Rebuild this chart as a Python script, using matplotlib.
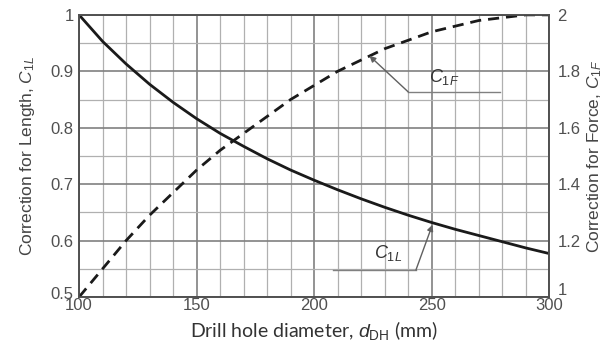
import matplotlib
matplotlib.use("Agg")
import matplotlib.pyplot as plt
import matplotlib.transforms as mtransforms
from matplotlib.ticker import MultipleLocator

# values
diameter = [100, 110, 120, 130, 140, 150, 160, 170, 180, 190, 200,
            210, 220, 230, 240, 250, 260, 270, 280, 290, 300]
c1l = [1.000, 0.953, 0.913, 0.877, 0.845, 0.816, 0.790, 0.767, 0.745, 0.725, 0.707,
       0.690, 0.674, 0.659, 0.645, 0.632, 0.620, 0.609, 0.598, 0.587, 0.577]
c1f = [1.00, 1.10, 1.20, 1.29, 1.37, 1.45, 1.52, 1.58, 1.64, 1.70, 1.75,
       1.80, 1.84, 1.88, 1.91, 1.94, 1.96, 1.98, 1.99, 2.00, 2.00]

x_ticks = [100, 150, 200, 250, 300]
left_ticks = [0.5, 0.6, 0.7, 0.8, 0.9, 1.0]
left_labels = ["0.5", "0.6", "0.7", "0.8", "0.9", "1"]
right_ticks = [1.0, 1.2, 1.4, 1.6, 1.8, 2.0]
right_labels = ["1", "1.2", "1.4", "1.6", "1.8", "2"]

plt.rcParams["font.family"] = ["Liberation Sans", "DejaVu Sans"]
plt.rcParams["mathtext.fontset"] = "custom"
plt.rcParams["mathtext.it"] = "Liberation Sans:italic"
plt.rcParams["mathtext.rm"] = "Liberation Sans"

tick_col = "#505050"
label_col = "#444444"

fig = plt.figure(figsize=(6.13, 3.54), dpi=100)
ax = fig.add_axes([0.129, 0.161, 0.767, 0.797])
ax2 = ax.twinx()

ax.set_xlim(100, 300)
ax.set_ylim(0.5, 1.0)
ax2.set_ylim(1.0, 2.0)

# grid: light lines every 10 mm / 0.05, darker at the labelled ticks
ax.xaxis.set_minor_locator(MultipleLocator(10))
ax.yaxis.set_minor_locator(MultipleLocator(0.05))
ax.set_xticks(x_ticks)
ax.set_yticks(left_ticks)
ax.set_yticklabels(left_labels)
ax2.set_yticks(right_ticks)
ax2.set_yticklabels(right_labels)
ax.grid(which="minor", color="#b0b0b0", lw=0.9)
ax.grid(which="major", color="#808080", lw=1.2)
ax.set_axisbelow(True)

ax.tick_params(which="both", length=0, labelsize=12, colors=tick_col)
ax.tick_params(axis="x", pad=1)
ax.tick_params(axis="y", pad=4)
ax2.tick_params(which="both", length=0, labelsize=12, colors=tick_col, pad=6)
for a in (ax, ax2):
    for s in a.spines.values():
        s.set_color("#505050")
        s.set_linewidth(1.2)

# lift the bottom-most y labels a little so they clear the x labels
lift = mtransforms.ScaledTranslation(0, 3 / 72, fig.dpi_scale_trans)
ax.get_yticklabels()[0].set_transform(ax.get_yticklabels()[0].get_transform() + lift)
lift2 = mtransforms.ScaledTranslation(0, 6 / 72, fig.dpi_scale_trans)
ax2.get_yticklabels()[0].set_transform(ax2.get_yticklabels()[0].get_transform() + lift2)

ax.plot(diameter, c1l, color="#1a1a1a", lw=2.0)
ax2.plot(diameter, c1f, color="#1a1a1a", lw=2.0, ls=(0, (4, 2.5)))

ax.set_xlabel("Drill hole diameter, $d_{\\mathrm{DH}}$ (mm)", fontsize=14,
              color="#333333", family=["Lato", "DejaVu Sans"], labelpad=4)
ax.set_ylabel("Correction for Length, $C_{1L}$", fontsize=12.5, color=label_col, labelpad=10)
ax2.set_ylabel("Correction for Force, $C_{1F}$", fontsize=12.5, color=label_col,
               rotation=90, labelpad=3)

# callouts
ax2.plot([240, 279], [1.727, 1.727], color="#808080", lw=1.0)
ax2.annotate("", xy=(223.5, 1.855), xytext=(240, 1.727),
             arrowprops=dict(arrowstyle="-|>", color="#606060", lw=1.0,
                             mutation_scale=9, shrinkA=0, shrinkB=0))
ax2.text(255.5, 1.78, "$C_{1F}$", fontsize=13, color="#333333", ha="center", va="center")

ax.plot([208, 243.3], [0.548, 0.548], color="#808080", lw=1.0)
ax.annotate("", xy=(250.3, 0.628), xytext=(243.3, 0.548),
            arrowprops=dict(arrowstyle="-|>", color="#606060", lw=1.0,
                            mutation_scale=9, shrinkA=0, shrinkB=0))
ax.text(231.5, 0.578, "$C_{1L}$", fontsize=13, color="#333333", ha="center", va="center")

fig.savefig("out.png", dpi=100)
